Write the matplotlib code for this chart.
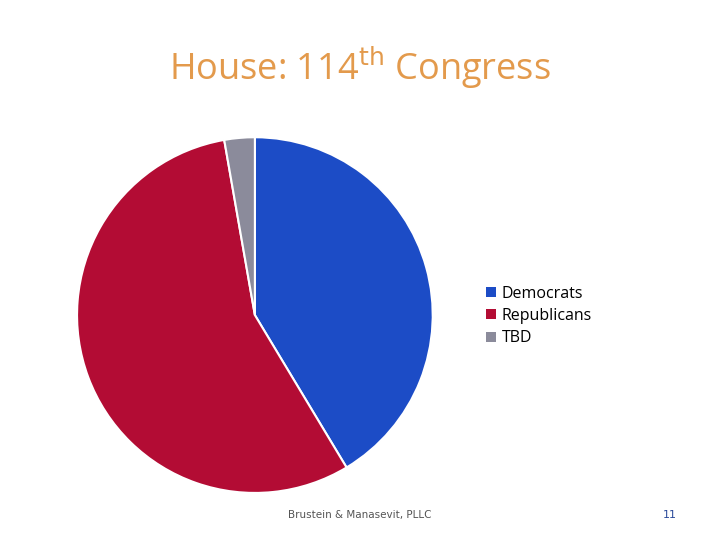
import matplotlib.pyplot as plt
from matplotlib.patches import Patch

parties = ['Democrats', 'Republicans', 'TBD']
seats = [180, 243, 12]
colors = ['#1c4cc6', '#b30c34', '#8b8b9b']

fig = plt.figure(figsize=(7.2, 5.4), dpi=100)
ax = fig.add_axes([0.107, 0.087, 0.494, 0.659])
ax.pie(seats, colors=colors, startangle=90, counterclock=False, radius=1.0,
       wedgeprops=dict(edgecolor='white', linewidth=1.5))
ax.set_xlim(-1, 1)
ax.set_ylim(-1, 1)
ax.set_aspect('equal')

fig.text(0.5, 0.875, r'House: 114$^{\mathrm{th}}$ Congress', ha='center', va='center',
         fontsize=26, color='#e39a4c', family='Open Sans')

handles = [Patch(facecolor=c, edgecolor='none') for c in colors]
fig.legend(handles, parties, loc='center left', bbox_to_anchor=(0.655, 0.415),
           frameon=False, handlelength=0.6, handleheight=0.6,
           handletextpad=0.4, labelspacing=0.4, prop={'family': 'Open Sans', 'size': 11.5})

fig.text(0.5, 0.046, 'Brustein & Manasevit, PLLC', ha='center', va='center',
         fontsize=7.5, color='#555555')
fig.text(0.93, 0.046, '11', ha='center', va='center', fontsize=8, color='#2a4a9a')

fig.savefig('out.png', dpi=100)
